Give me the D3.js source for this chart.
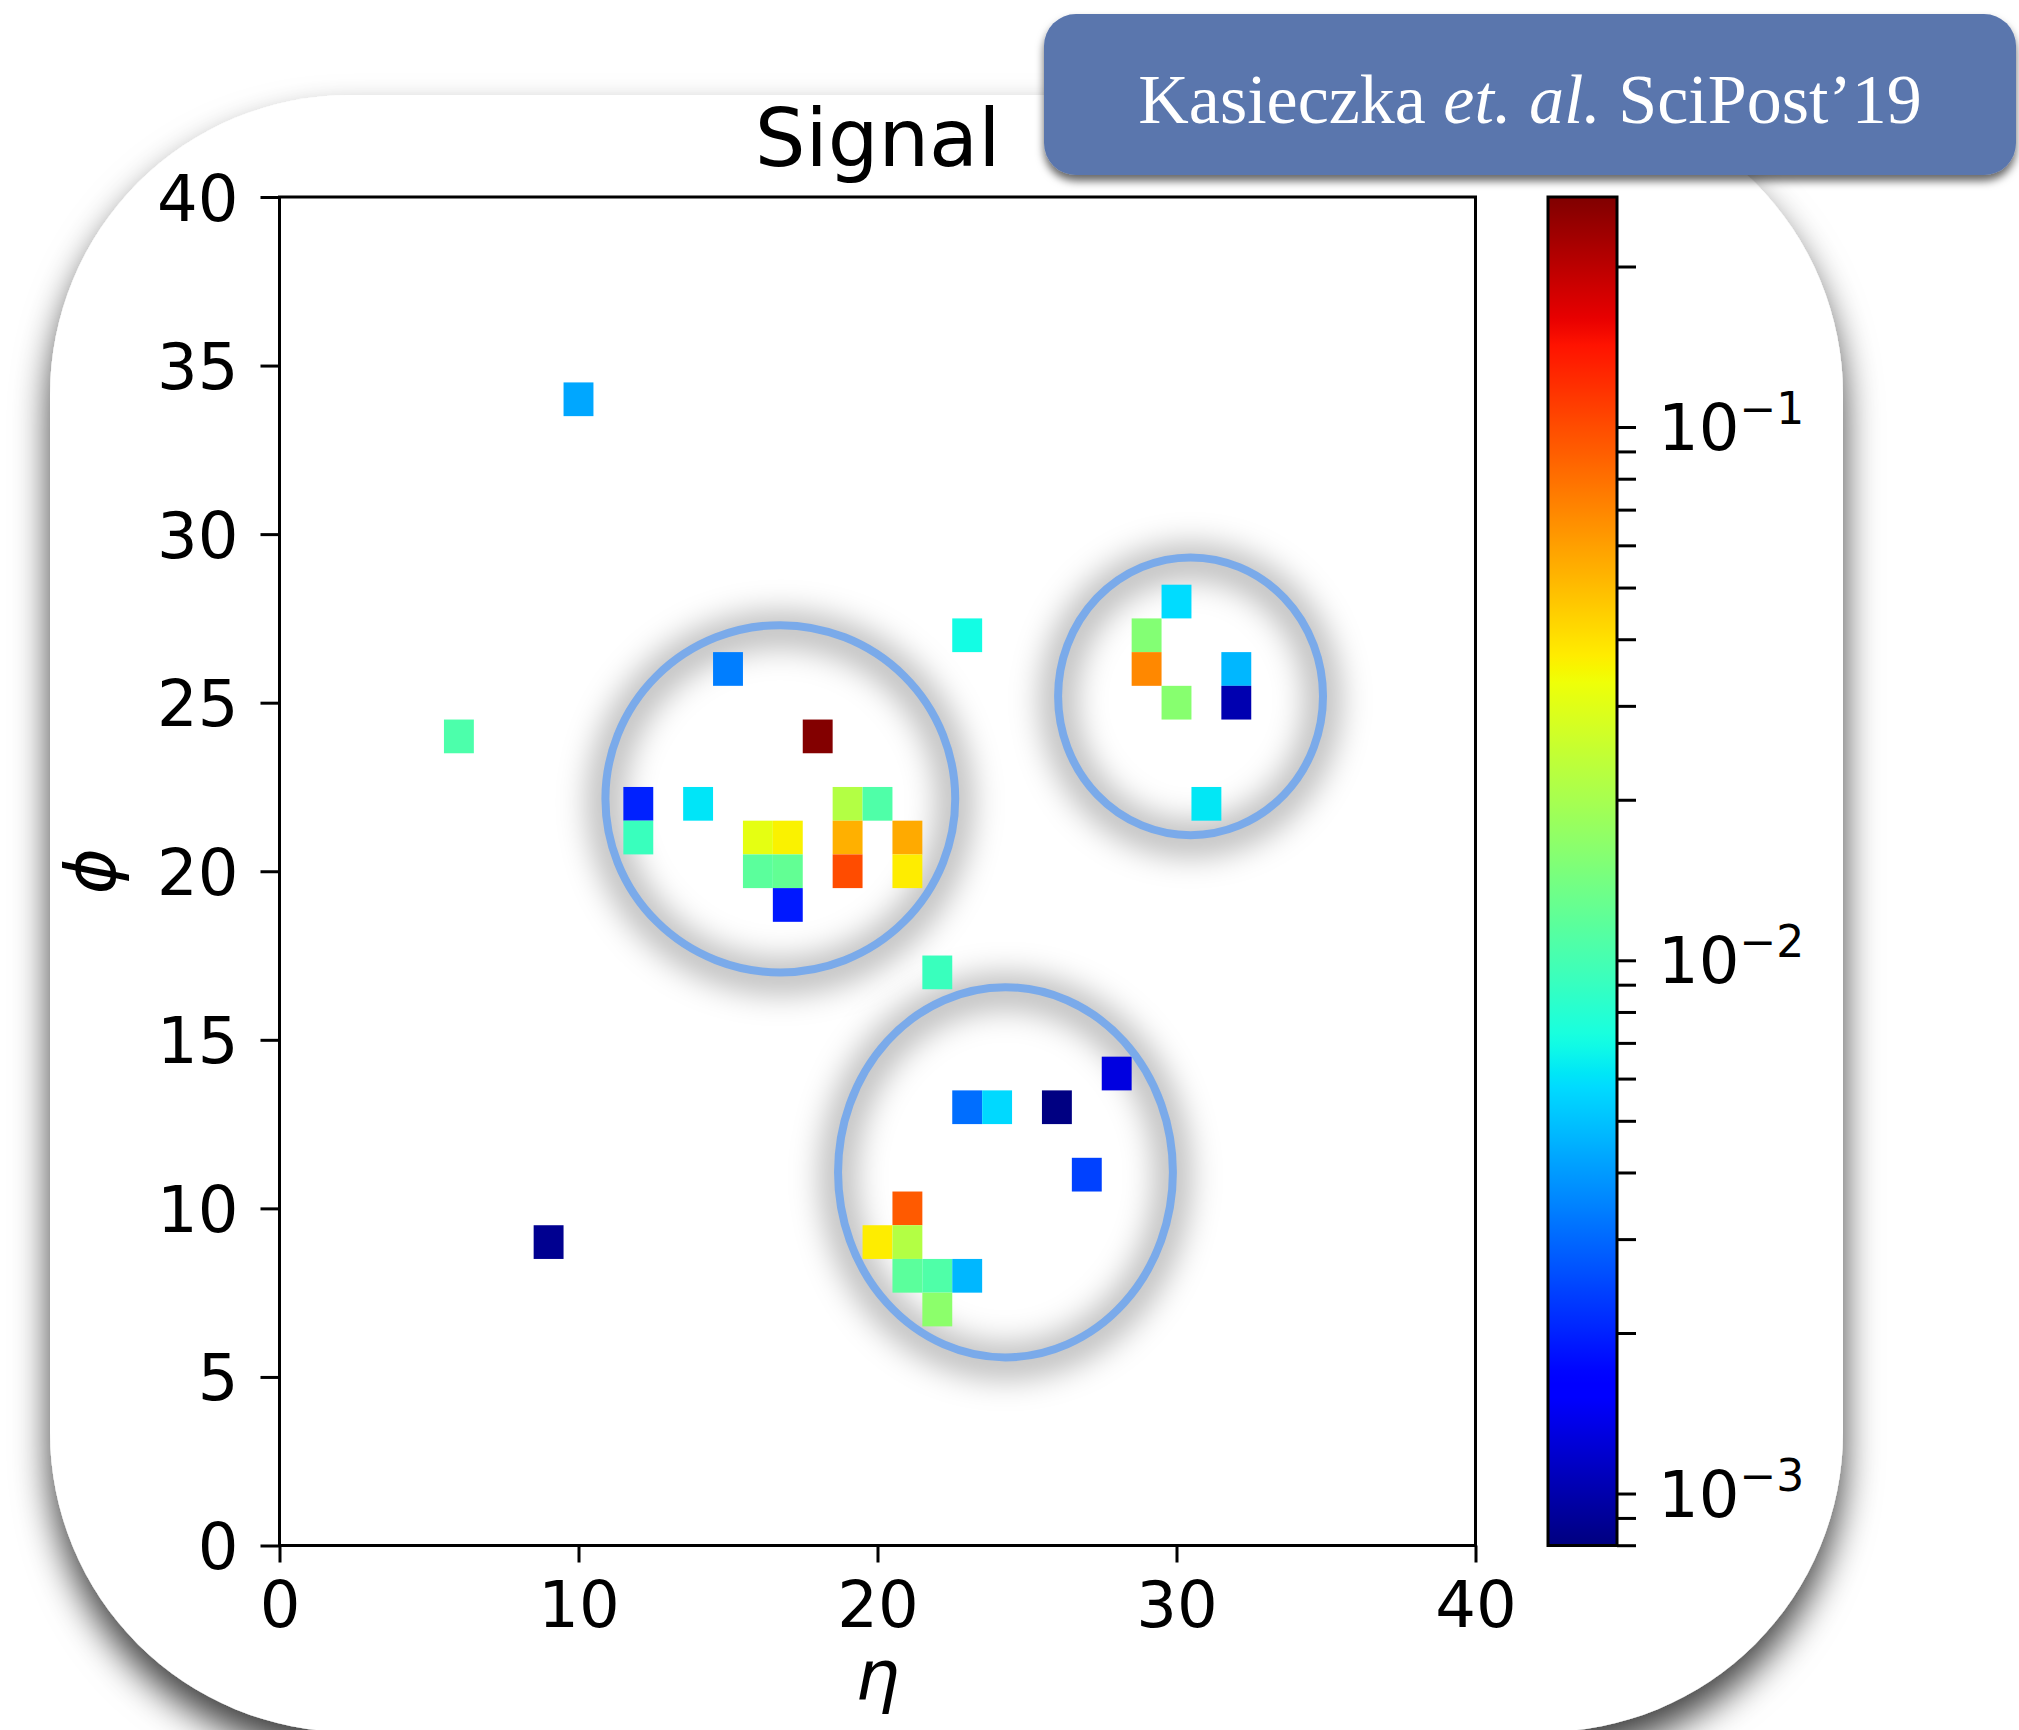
<!DOCTYPE html>
<html>
<head>
<meta charset="utf-8">
<script src="https://cdn.jsdelivr.net/npm/d3@7"></script>
<style>
  html, body { margin: 0; padding: 0; background: #fff; }
  svg { display: block; }
</style>
</head>
<body>
<svg id="chart"></svg>
<script>
"use strict";

// calorimeter cells: eta, phi, deposit
const cellEta = [10, 6, 15, 18, 23, 12, 12, 14, 16, 17, 16, 17, 17, 19, 20, 19, 21, 19, 21, 22,
  30, 29, 29, 30, 32, 32, 31, 28, 23, 24, 26, 27, 21, 20, 21, 21, 22, 23, 22, 9];
const cellPhi = [34, 24, 26, 24, 27, 22, 21, 22, 21, 21, 20, 20, 19, 22, 22, 21, 21, 20, 20, 17,
  28, 27, 26, 25, 26, 25, 22, 14, 13, 13, 13, 11, 10, 9, 9, 8, 8, 8, 7, 9];
const cellValue = [0.0043, 0.0105, 0.0034, 0.265, 0.0070, 0.0020, 0.0092, 0.0061, 0.031, 0.036,
  0.0117, 0.0123, 0.0019, 0.0217, 0.0107, 0.054, 0.056, 0.100, 0.037, 0.0092,
  0.0058, 0.0155, 0.069, 0.016, 0.0047, 0.00102, 0.0062, 0.0013, 0.0031, 0.0057,
  0.00081, 0.0024, 0.092, 0.037, 0.0217, 0.0117, 0.0107, 0.0047, 0.0165, 0.00087];

const xTicks = [0, 10, 20, 30, 40];
const yTicks = [0, 5, 10, 15, 20, 25, 30, 35, 40];
const colorDomain = [7.99e-4, 0.27];
const cbarMajor = [1e-3, 1e-2, 1e-1];
const cbarExp = ["\u22123", "\u22122", "\u22121"];

// hand drawn jet rings (eta, phi, radii in data units)
const ringEta = [16.75, 30.47, 24.28];
const ringPhi = [22.15, 25.19, 11.07];
const ringREta = [5.85, 4.43, 5.6];
const ringRPhi = [5.15, 4.12, 5.49];

const width = 2019;
const height = 1730;

const svg = d3.select("#chart").attr("width", width).attr("height", height);
const defs = svg.append("defs");

defs.append("filter").attr("id", "cardShadow")
  .attr("x", "-10%").attr("y", "-10%").attr("width", "120%").attr("height", "130%")
  .append("feDropShadow")
  .attr("dx", 0).attr("dy", 22).attr("stdDeviation", 18)
  .attr("flood-color", "#000").attr("flood-opacity", 0.75);

defs.append("filter").attr("id", "badgeShadow")
  .attr("x", "-10%").attr("y", "-20%").attr("width", "120%").attr("height", "150%")
  .append("feDropShadow")
  .attr("dx", 0).attr("dy", 6).attr("stdDeviation", 4)
  .attr("flood-color", "#000").attr("flood-opacity", 0.6);

defs.append("filter").attr("id", "ringGlow")
  .attr("x", "-30%").attr("y", "-30%").attr("width", "160%").attr("height", "160%")
  .append("feGaussianBlur").attr("stdDeviation", 15);

// jet colormap
const jetR = d3.scaleLinear([0, 0.35, 0.66, 0.89, 1], [0, 0, 1, 1, 0.5]).clamp(true);
const jetG = d3.scaleLinear([0, 0.125, 0.375, 0.64, 0.91, 1], [0, 0, 1, 1, 0, 0]).clamp(true);
const jetB = d3.scaleLinear([0, 0.11, 0.34, 0.65, 1], [0.5, 1, 1, 0, 0]).clamp(true);
const jet = (t) => d3.rgb(255 * jetR(t), 255 * jetG(t), 255 * jetB(t)).formatHex();
const norm = d3.scaleLog().domain(colorDomain).range([0, 1]).clamp(true);

const grad = defs.append("linearGradient").attr("id", "cbarGrad")
  .attr("x1", 0).attr("y1", 1).attr("x2", 0).attr("y2", 0);
grad.selectAll("stop")
  .data(d3.range(0, 1.0001, 0.01))
  .join("stop")
  .attr("offset", (t) => t)
  .attr("stop-color", (t) => jet(t));

// card
svg.append("rect")
  .attr("x", 50).attr("y", 95)
  .attr("width", 1793).attr("height", 1637)
  .attr("rx", 300).attr("ry", 300)
  .attr("fill", "#fff")
  .attr("filter", "url(#cardShadow)");

const x = d3.scaleLinear().domain([0, 40]).range([279.5, 1475.5]);
const y = d3.scaleLinear().domain([0, 40]).range([1545.5, 197]);

const cells = cellEta.map((e, i) => ({ eta: e, phi: cellPhi[i], v: cellValue[i] }));
const rings = ringEta.map((e, i) => ({ eta: e, phi: ringPhi[i], re: ringREta[i], rp: ringRPhi[i] }));

// ring glow under the cells
svg.append("g")
  .selectAll("ellipse")
  .data(rings)
  .join("ellipse")
  .attr("cx", (d) => x(d.eta))
  .attr("cy", (d) => y(d.phi) + 4)
  .attr("rx", (d) => x(d.re) - x(0))
  .attr("ry", (d) => y(0) - y(d.rp))
  .attr("fill", "none")
  .attr("stroke", "#000")
  .attr("stroke-opacity", 0.26)
  .attr("stroke-width", 36)
  .attr("filter", "url(#ringGlow)");

// cells
svg.append("g")
  .selectAll("rect")
  .data(cells)
  .join("rect")
  .attr("x", (d) => x(d.eta - 0.5))
  .attr("y", (d) => y(d.phi + 0.5))
  .attr("width", (d) => x(d.eta + 0.5) - x(d.eta - 0.5))
  .attr("height", (d) => y(d.phi - 0.5) - y(d.phi + 0.5))
  .attr("fill", (d) => jet(norm(d.v)));

// rings
svg.append("g")
  .selectAll("ellipse")
  .data(rings)
  .join("ellipse")
  .attr("cx", (d) => x(d.eta))
  .attr("cy", (d) => y(d.phi))
  .attr("rx", (d) => x(d.re) - x(0))
  .attr("ry", (d) => y(0) - y(d.rp))
  .attr("fill", "none")
  .attr("stroke", "#7aaaea")
  .attr("stroke-width", 8);

// axes
const fontAxis = "'DejaVu Sans', sans-serif";

const xg = svg.append("g")
  .attr("transform", `translate(0,${y(0)})`)
  .call(d3.axisBottom(x).tickValues(xTicks).tickSize(17).tickSizeOuter(0).tickPadding(19));
const yg = svg.append("g")
  .attr("transform", `translate(${x(0)},0)`)
  .call(d3.axisLeft(y).tickValues(yTicks).tickSize(19).tickSizeOuter(0).tickPadding(22));

[xg, yg].forEach((g) => {
  g.select(".domain").remove();
  g.selectAll("line").attr("stroke", "#000").attr("stroke-width", 3);
  g.selectAll("text")
    .attr("fill", "#000")
    .style("font-family", fontAxis)
    .style("font-size", "64px");
});
yg.selectAll("text").attr("dy", "0.36em");

svg.append("rect")
  .attr("x", x(0)).attr("y", y(40))
  .attr("width", x(40) - x(0)).attr("height", y(0) - y(40))
  .attr("fill", "none").attr("stroke", "#000").attr("stroke-width", 3);

// title and labels
svg.append("text")
  .attr("x", (x(0) + x(40)) / 2).attr("y", 166)
  .attr("text-anchor", "middle")
  .style("font-family", fontAxis).style("font-size", "80px")
  .text("Signal");

svg.append("text")
  .attr("x", (x(0) + x(40)) / 2).attr("y", 1700)
  .attr("text-anchor", "middle")
  .style("font-family", fontAxis).style("font-size", "70px").style("font-style", "italic")
  .text("\u03b7");

svg.append("text")
  .attr("transform", `translate(115,${(y(0) + y(40)) / 2}) rotate(-90)`)
  .attr("text-anchor", "middle")
  .style("font-family", fontAxis).style("font-size", "70px").style("font-style", "italic")
  .text("\u03d5");

// colorbar
const cbX = 1548;
const cbW = 69;
const c = d3.scaleLog().domain(colorDomain).range([y(0), y(40)]);

svg.append("rect")
  .attr("x", cbX).attr("y", y(40))
  .attr("width", cbW).attr("height", y(0) - y(40))
  .attr("fill", "url(#cbarGrad)");

const cg = svg.append("g")
  .attr("transform", `translate(${cbX + cbW},0)`)
  .call(d3.axisRight(c).tickSize(19).tickSizeOuter(0).tickFormat(""));
cg.select(".domain").remove();
cg.selectAll("line").attr("stroke", "#000").attr("stroke-width", 3);

svg.append("rect")
  .attr("x", cbX).attr("y", y(40))
  .attr("width", cbW).attr("height", y(0) - y(40))
  .attr("fill", "none").attr("stroke", "#000").attr("stroke-width", 3);

const cbLabels = svg.append("g")
  .selectAll("text")
  .data(cbarMajor)
  .join("text")
  .attr("x", 1658)
  .attr("y", (d) => c(d) + 23)
  .style("font-family", fontAxis)
  .style("font-size", "64px");
cbLabels.append("tspan").text("10");
cbLabels.append("tspan")
  .attr("dy", -26)
  .style("font-size", "44px")
  .text((d, i) => cbarExp[i]);

// citation badge
svg.append("rect")
  .attr("x", 1044).attr("y", 14)
  .attr("width", 972).attr("height", 161)
  .attr("rx", 32).attr("ry", 32)
  .attr("fill", "#5a76ad")
  .attr("filter", "url(#badgeShadow)");

const badge = svg.append("text")
  .attr("x", 1530).attr("y", 123)
  .attr("text-anchor", "middle")
  .attr("fill", "#fff")
  .style("font-family", "'Liberation Serif', 'DejaVu Serif', serif")
  .style("font-size", "70px");
badge.append("tspan").text("Kasieczka ");
badge.append("tspan").style("font-style", "italic").text("et. al.");
badge.append("tspan").text(" SciPost\u201919");
</script>
</body>
</html>
